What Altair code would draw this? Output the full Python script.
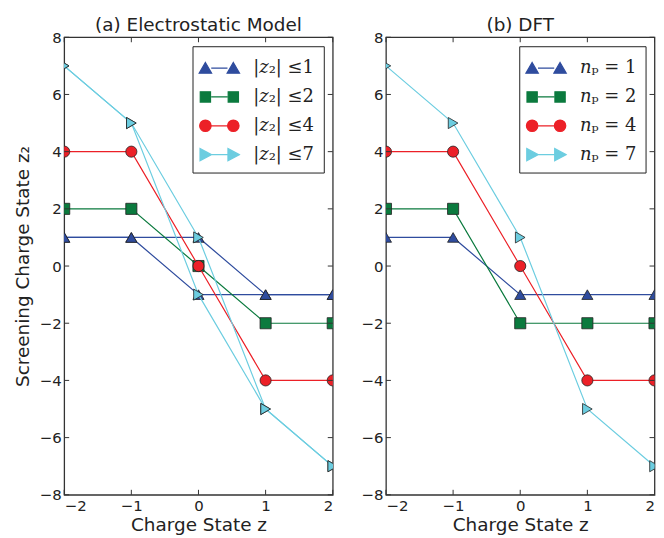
import altair as alt
import pandas as pd

# ---------------- data ----------------
charge = [-2, -1, 0, 1, 2]

es_labels = ["|𝑧₂| ≤1", "|𝑧₂| ≤2", "|𝑧₂| ≤4", "|𝑧₂| ≤7"]
es_z2_1_a = [1, 1, 1, -1, -1]
es_z2_1_b = [1, 1, -1, -1, -1]
es_z2_2 = [2, 2, 0, -2, -2]
es_z2_4 = [4, 4, 0, -4, -4]
es_z2_7_a = [7, 5, 1, -5, -7]
es_z2_7_b = [7, 5, -1, -5, -7]

dft_labels = ["𝑛ₚ = 1", "𝑛ₚ = 2", "𝑛ₚ = 4", "𝑛ₚ = 7"]
dft_np_1 = [1, 1, -1, -1, -1]
dft_np_2 = [2, 2, -2, -2, -2]
dft_np_4 = [4, 4, 0, -4, -4]
dft_np_7 = [7, 5, 1, -5, -7]

x_ticks = [-2, -1, 0, 1, 2]
y_ticks = [-8, -6, -4, -2, 0, 2, 4, 6, 8]

colors = ["#2f4c9e", "#0b7a3e", "#ec2027", "#6ccde0"]
shapes = ["triangle-up", "square", "circle", "triangle-right"]

# legend glyphs: marker - line - marker (unit = sqrt(size)/2 px)
_L = "M-0.68,0L0.68,0"
_C = 1.17
legend_glyphs = [
    _L + "".join(f"M{c},-0.47L{c+0.52},0.43L{c-0.52},0.43Z" for c in (-_C, _C)),
    _L + "".join(f"M{c-0.43},-0.43L{c+0.43},-0.43L{c+0.43},0.43L{c-0.43},0.43Z" for c in (-_C, _C)),
    _L + "".join(f"M{c+0.48},0A0.48,0.48 0 1,1 {c-0.48},0A0.48,0.48 0 1,1 {c+0.48},0Z" for c in (-_C, _C)),
    _L + "".join(f"M{c+0.5},0L{c-0.45},-0.52L{c-0.45},0.52Z" for c in (-_C, _C)),
]

W, H = 270, 460
FONT = "DejaVu Sans"
LEG_SIZE = 576


def panel(labels, series, title, ytitle):
    rows = []
    for lab, branches in zip(labels, series):
        for b, ys in enumerate(branches):
            for x, y in zip(charge, ys):
                rows.append({"z": x, "z2": y, "series": lab, "branch": b})
    df = pd.DataFrame(rows)

    xs = alt.Scale(domain=[-2, 2], nice=False, zero=False)
    ys = alt.Scale(domain=[-8, 8], nice=False, zero=False)
    cs = alt.Scale(domain=labels, range=colors)
    strs = alt.Scale(domain=labels, range=colors)
    ss = alt.Scale(domain=labels, range=legend_glyphs)

    xenc = alt.X("z:Q", scale=xs, title="Charge State z",
                 axis=alt.Axis(values=x_ticks, tickSize=0, domain=False, grid=False,
                               labelPadding=4, titlePadding=2, format="d"))
    yaxis = dict(values=y_ticks, tickSize=0, domain=False, grid=False,
                 labelPadding=3, format="d", titlePadding=7)
    if ytitle:
        yenc = alt.Y("z2:Q", scale=ys, title=ytitle, axis=alt.Axis(**yaxis))
    else:
        yenc = alt.Y("z2:Q", scale=ys, title=None, axis=alt.Axis(**yaxis))
    legend = alt.Legend(title=None, orient="top-right", symbolSize=LEG_SIZE,
                        symbolOpacity=1, symbolStrokeWidth=1.2)

    layers = []
    for i, lab in enumerate(labels):
        sub = df[df["series"] == lab]
        base = alt.Chart(sub).encode(
            x=xenc, y=yenc,
            color=alt.Color("series:N", scale=cs, legend=legend),
        )
        line = base.mark_line(strokeWidth=1.2, clip=True).encode(
            detail="branch:N", order="z:Q")
        pts = base.mark_point(filled=True, shape=shapes[i], size=125, stroke="#222",
                              strokeWidth=0.8, opacity=1, clip=True)
        layers += [line, pts]

    # legend-only layer (rows have no coordinates, so no marks are drawn)
    legdf = pd.DataFrame({"series": labels, "z": [None] * 4, "z2": [None] * 4})
    layers.append(
        alt.Chart(legdf).mark_point(filled=True, size=LEG_SIZE, opacity=1).encode(
            x=xenc, y=yenc,
            color=alt.Color("series:N", scale=cs, legend=legend),
            stroke=alt.Stroke("series:N", scale=strs, legend=legend),
            shape=alt.Shape("series:N", scale=ss, legend=legend),
        )
    )

    ydf = pd.DataFrame({"v": y_ticks})
    xdf = pd.DataFrame({"v": x_ticks})
    tick_style = dict(color="#333", strokeWidth=1)
    ty = alt.Y("v:Q", scale=ys)
    tx = alt.X("v:Q", scale=xs)
    layers += [
        alt.Chart(ydf).mark_rule(**tick_style).encode(y=ty, x=alt.value(0), x2=alt.value(5)),
        alt.Chart(ydf).mark_rule(**tick_style).encode(y=ty, x=alt.value(W - 5), x2=alt.value(W)),
        alt.Chart(xdf).mark_rule(**tick_style).encode(x=tx, y=alt.value(0), y2=alt.value(5)),
        alt.Chart(xdf).mark_rule(**tick_style).encode(x=tx, y=alt.value(H - 5), y2=alt.value(H)),
    ]

    return alt.layer(*layers).properties(
        width=W, height=H,
        title=alt.TitleParams(title, fontSize=18.5, font=FONT, fontWeight="normal",
                              color="#222", anchor="middle", offset=-4.5),
    )


left = panel(es_labels,
             [[es_z2_1_a, es_z2_1_b], [es_z2_2], [es_z2_4], [es_z2_7_a, es_z2_7_b]],
             "(a) Electrostatic Model", "Screening Charge State z₂")
right = panel(dft_labels,
              [[dft_np_1], [dft_np_2], [dft_np_4], [dft_np_7]],
              "(b) DFT", None)

chart = alt.hconcat(left, right, spacing=25.5).resolve_scale(
    color="independent", shape="independent", stroke="independent"
).properties(
    padding={"left": 4.5, "top": 6, "right": 0, "bottom": 0}
).configure_view(
    stroke="#333", strokeWidth=1.3
).configure_axis(
    labelFont=FONT, labelFontSize=15, labelColor="#222",
    titleFont=FONT, titleFontSize=18.5, titleFontWeight="normal", titleColor="#222",
).configure_legend(
    orient="top-right", offset=9, padding=9, strokeColor="#222", strokeWidth=1,
    fillColor="white", cornerRadius=0,
    labelFont="DejaVu Serif", labelFontSize=18, labelColor="#222",
    rowPadding=7, labelOffset=21, symbolOffset=5,
)

chart.save("out.html", embed_options={"renderer": "svg", "actions": False})
